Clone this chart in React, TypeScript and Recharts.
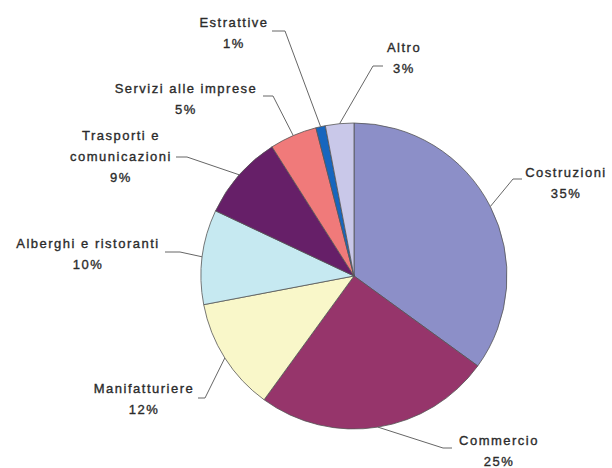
import { PieChart, Pie, Cell } from "recharts";

const categories = [
  "Costruzioni",
  "Commercio",
  "Manifatturiere",
  "Alberghi e ristoranti",
  "Trasporti e comunicazioni",
  "Servizi alle imprese",
  "Estrattive",
  "Altro",
];
const shares = [35, 25, 12, 10, 9, 5, 1, 3];
const colors = [
  "#8c8fc8",
  "#96356b",
  "#f9f7c9",
  "#c6e9f1",
  "#661f68",
  "#f07a7a",
  "#1766be",
  "#c9c8e9",
];

// label placement (text centre + leader elbow/end), Excel style
const labelLayout = [
  { x: 566, y: 172, elbow: [513, 179], end: [522, 179] },
  { x: 499, y: 440, elbow: [443, 448], end: [452, 448] },
  { x: 144, y: 388, elbow: [205, 398], end: [198, 398] },
  { x: 88, y: 243, elbow: [180, 252], end: [165, 252] },
  { x: 121, y: 135, elbow: [187, 157], end: [176, 157], lines: ["Trasporti e", "comunicazioni"] },
  { x: 186, y: 88, elbow: [273, 96], end: [263, 96] },
  { x: 234, y: 22, elbow: [285, 31], end: [272, 31] },
  { x: 404, y: 47, elbow: [373, 66], end: [383, 66] },
];

const data = categories.map((name, i) => ({ name, value: shares[i] }));

const RADIAN = Math.PI / 180;
const LINE_H = 21;

const renderLabel = (props: any) => {
  const { cx, cy, midAngle, outerRadius, index, value, name } = props;
  const lay = labelLayout[index];
  const sx = cx + outerRadius * Math.cos(-midAngle * RADIAN);
  const sy = cy + outerRadius * Math.sin(-midAngle * RADIAN);
  const lines = [...(lay.lines || [name]), `${value}%`];
  return (
    <g key={`lbl-${index}`}>
      <polyline
        points={`${sx},${sy} ${lay.elbow[0]},${lay.elbow[1]} ${lay.end[0]},${lay.end[1]}`}
        fill="none"
        stroke="#666"
        strokeWidth={1}
      />
      {lines.map((t, j) => (
        <text
          key={j}
          x={lay.x}
          y={lay.y + j * LINE_H}
          textAnchor="middle"
          dominantBaseline="central"
          fontFamily="'Liberation Sans', Arial, sans-serif"
          fontSize={13}
          letterSpacing={1.5}
          fill="#2b2b2b"
          stroke="#2b2b2b"
          strokeWidth={0.35}
        >
          {t}
        </text>
      ))}
    </g>
  );
};

export default function App() {
  return (
    <div style={{ position: "fixed", left: 0, top: 0, width: 612, height: 468, background: "#fff" }}>
      <PieChart width={612} height={468} margin={{ top: 0, right: 0, bottom: 0, left: 0 }}>
        <Pie
          data={data}
          dataKey="value"
          nameKey="name"
          cx={354}
          cy={276}
          outerRadius={153}
          startAngle={90}
          endAngle={-270}
          stroke="#555"
          strokeWidth={0.8}
          label={renderLabel}
          labelLine={false}
          isAnimationActive={false}
        >
          {data.map((d, i) => (
            <Cell key={d.name} fill={colors[i]} />
          ))}
        </Pie>
      </PieChart>
    </div>
  );
}
